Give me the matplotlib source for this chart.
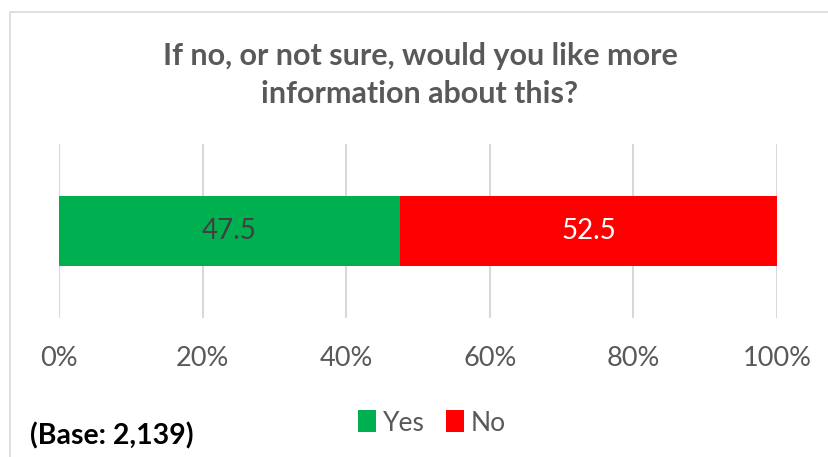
import matplotlib
matplotlib.use("Agg")
import matplotlib.pyplot as plt
from matplotlib.patches import Rectangle, Patch

categories = ["Yes", "No"]
values = [47.5, 52.5]
colors = ["#00B050", "#FF0000"]
label_colors = ["#404040", "#FFFFFF"]
xticks = [0, 20, 40, 60, 80, 100]
xticklabels = ["0%", "20%", "40%", "60%", "80%", "100%"]
title = "If no, or not sure, would you like more\ninformation about this?"
base_text = "(Base: 2,139)"

plt.rcParams['font.family'] = ['Lato', 'DejaVu Sans']

W, H = 829, 457
fig = plt.figure(figsize=(W / 100, H / 100), dpi=100)

# chart border
fig.patches.append(Rectangle((10 / W, -0.1), 1.2, 1 - 12 / H + 0.1,
                             transform=fig.transFigure, fill=False,
                             edgecolor="#D9D9D9", linewidth=1.2))

ax = fig.add_axes([59 / W, 1 - 318 / H, (777 - 59) / W, (318 - 144) / H])
left = 0
for cat, v, c, lc in zip(categories, values, colors, label_colors):
    ax.barh(0, v, left=left, height=0.402, color=c, label=cat, zorder=2)
    ax.text(left + v / 2, 0, f"{v:.1f}", ha="center", va="center",
            color=lc, fontsize=20, zorder=3)
    left += v

ax.set_xlim(0, 100)
ax.set_ylim(-0.5, 0.5)
ax.set_xticks(xticks)
ax.set_xticklabels(xticklabels, fontsize=19.5, color="#595959")
ax.set_yticks([])
ax.tick_params(axis="x", length=0, pad=20)
ax.grid(axis="x", color="#D9D9D9", linewidth=1.5, zorder=0)
for s in ax.spines.values():
    s.set_visible(False)

fig.text(420 / W, 1 - 75 / H, title, ha="center", va="center",
         fontsize=22, fontweight="bold", color="#595959", linespacing=1.4)

handles = [Patch(facecolor=c, edgecolor="none") for c in colors]
fig.legend(handles, categories, loc="center", bbox_to_anchor=(432 / W, 1 - 423 / H),
           ncol=2, frameon=False, fontsize=19, handlelength=0.7, handleheight=0.9,
           handletextpad=0.25, columnspacing=0.8, labelcolor="#595959")

fig.text(30 / W, 1 - 436 / H, base_text, ha="left", va="center",
         fontsize=20.5, fontweight="bold", color="black")

fig.savefig("out.png", dpi=100)
